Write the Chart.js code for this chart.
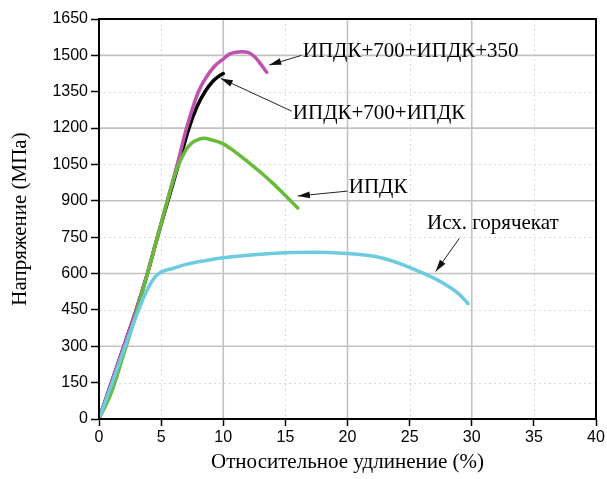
<!DOCTYPE html>
<html>
<head>
<meta charset="utf-8">
<script src="https://cdn.jsdelivr.net/npm/chart.js@4"></script>
<style>
html,body{margin:0;padding:0;background:#fff;}
#wrap{width:607px;height:479px;position:relative;}
</style>
</head>
<body>
<div id="wrap"><canvas id="c" width="607" height="479"></canvas></div>
<script>
// ---- data (strain %, stress MPa) ----
const hotRolledX = [0, 1, 2, 3, 3.5, 4, 4.5, 5, 6, 7, 8.5, 10, 12.5, 15, 17.5, 20, 21, 22, 23, 24, 25, 26, 27, 28, 29, 29.7];
const hotRolledY = [0, 140, 285, 425, 490, 545, 585, 606, 622, 638, 653, 665, 678, 686, 688, 683, 679, 672, 661, 645, 625, 604, 580, 551, 514, 476];

const ipdkX = [0, 1, 2, 3, 3.9, 4.7, 5.5, 6.3, 7, 7.5, 8, 8.5, 9, 10, 11, 12, 13, 14, 15, 16];
const ipdkY = [0, 110, 270, 435, 600, 750, 900, 1035, 1110, 1140, 1153, 1158, 1152, 1135, 1100, 1060, 1018, 972, 922, 870];

const ipdk700X = [0, 1, 2, 3, 3.9, 4.7, 5.55, 6.4, 7.24, 7.9, 8.53, 9.2, 9.7, 10];
const ipdk700Y = [0, 150, 300, 450, 600, 750, 900, 1050, 1200, 1290, 1350, 1395, 1416, 1425];

const ipdk700350X = [0, 1, 2, 3, 3.9, 4.7, 5.5, 6.3, 7.05, 8, 8.66, 9.3, 10, 10.5, 11, 11.5, 12, 12.5, 13, 13.5];
const ipdk700350Y = [0, 150, 300, 450, 600, 750, 900, 1050, 1200, 1350, 1412, 1455, 1485, 1505, 1513, 1515, 1512, 1495, 1465, 1430];

const xTicks = [0, 5, 10, 15, 20, 25, 30, 35, 40];
const yTicks = [0, 150, 300, 450, 600, 750, 900, 1050, 1200, 1350, 1500, 1650];
const xMajorGrid = [10, 20, 30];
const xMinorGrid = [5, 15, 25, 35];
const yMajorGrid = [300, 600, 900, 1200, 1500];
const yMinorGrid = [150, 450, 750, 1050, 1350];

const labels = ['Исх. горячекат', 'ИПДК', 'ИПДК+700+ИПДК', 'ИПДК+700+ИПДК+350'];
// annotation: text anchor (data coords) and arrow from/to (data coords)
const annText = [[26.4, 805], [20.1, 955], [15.6, 1260], [16.4, 1515]];
const annArrowFrom = [[29.0, 745], [20.0, 940], [15.5, 1270], [16.3, 1500]];
const annArrowTo = [[27.1, 608], [16.0, 920], [9.8, 1405], [13.7, 1460]];

const toPts = (xs, ys) => xs.map((x, i) => ({x: x, y: ys[i]}));

const gridPlugin = {
  id: 'gridLines',
  beforeDatasetsDraw(chart) {
    const {ctx, chartArea: a, scales: {x, y}} = chart;
    ctx.save();
    const line = (x1, y1, x2, y2) => { ctx.beginPath(); ctx.moveTo(x1, y1); ctx.lineTo(x2, y2); ctx.stroke(); };
    ctx.strokeStyle = '#dadada'; ctx.lineWidth = 1; ctx.setLineDash([2, 3]);
    xMinorGrid.forEach(v => { const p = Math.round(x.getPixelForValue(v)) + 0.5; line(p, a.top, p, a.bottom); });
    yMinorGrid.forEach(v => { const p = Math.round(y.getPixelForValue(v)) + 0.5; line(a.left, p, a.right, p); });
    ctx.setLineDash([]); ctx.strokeStyle = '#c2c2c2'; ctx.lineWidth = 1.6;
    xMajorGrid.forEach(v => { const p = x.getPixelForValue(v); line(p, a.top, p, a.bottom); });
    yMajorGrid.forEach(v => { const p = y.getPixelForValue(v); line(a.left, p, a.right, p); });
    ctx.restore();
  }
};

const annPlugin = {
  id: 'ann',
  afterDatasetsDraw(chart) {
    const {ctx, chartArea: a, scales: {x, y}} = chart;
    ctx.save();
    ctx.strokeStyle = '#000';
    ctx.lineWidth = 2;
    ctx.strokeRect(a.left, a.top, a.right - a.left, a.bottom - a.top);
    ctx.font = '21px "Liberation Serif", "Times New Roman", serif';
    ctx.textBaseline = 'middle';
    ctx.textAlign = 'left';
    labels.forEach((t, i) => {
      ctx.fillStyle = '#000';
      ctx.fillText(t, x.getPixelForValue(annText[i][0]), y.getPixelForValue(annText[i][1]));
      const x1 = x.getPixelForValue(annArrowFrom[i][0]);
      const y1 = y.getPixelForValue(annArrowFrom[i][1]);
      const x2 = x.getPixelForValue(annArrowTo[i][0]);
      const y2 = y.getPixelForValue(annArrowTo[i][1]);
      ctx.strokeStyle = '#222';
      ctx.lineWidth = 1;
      ctx.beginPath(); ctx.moveTo(x1, y1); ctx.lineTo(x2, y2); ctx.stroke();
      const ang = Math.atan2(y2 - y1, x2 - x1);
      const L = 12, W = 3.4;
      ctx.beginPath();
      ctx.moveTo(x2, y2);
      ctx.lineTo(x2 - L * Math.cos(ang) + W * Math.sin(ang), y2 - L * Math.sin(ang) - W * Math.cos(ang));
      ctx.lineTo(x2 - L * Math.cos(ang) - W * Math.sin(ang), y2 - L * Math.sin(ang) + W * Math.cos(ang));
      ctx.closePath();
      ctx.fillStyle = '#111';
      ctx.fill();
    });
    ctx.restore();
  }
};

const ds = (lbl, xs, ys, col) => ({
  label: lbl, data: toPts(xs, ys), borderColor: col, backgroundColor: col,
  borderWidth: 3.5, pointRadius: 0, cubicInterpolationMode: 'monotone',
  borderCapStyle: 'round', borderJoinStyle: 'round', fill: false
});

const tickFont = {family: '"Liberation Sans", Arial, sans-serif', size: 16};
const titleFont = {family: '"Liberation Serif", "Times New Roman", serif', size: 21};

new Chart(document.getElementById('c'), {
  type: 'line',
  data: {
    datasets: [
      ds(labels[0], hotRolledX, hotRolledY, '#6ccbdf'),
      ds(labels[1], ipdkX, ipdkY, '#66bb3a'),
      ds(labels[3], ipdk700350X, ipdk700350Y, '#bf52ae'),
      ds(labels[2], ipdk700X, ipdk700Y, '#000000')
    ]
  },
  options: {
    responsive: false,
    animation: false,
    devicePixelRatio: 1,
    layout: {padding: {left: 4, right: 11, top: 19, bottom: 0}},
    plugins: {legend: {display: false}, tooltip: {enabled: false}},
    scales: {
      x: {
        type: 'linear', min: 0, max: 40,
        afterBuildTicks: s => { s.ticks = xTicks.map(v => ({value: v})); },
        afterFit: s => { s.height = 60; },
        ticks: {font: tickFont, color: '#000', padding: 2, maxRotation: 0, callback: v => String(v)},
        grid: {drawOnChartArea: false, tickColor: '#000', tickLength: 7, tickWidth: 1.5},
        border: {display: true, color: '#000', width: 2},
        title: {display: true, text: 'Относительное удлинение (%)', color: '#000', font: titleFont, padding: {top: 6}}
      },
      y: {
        type: 'linear', min: 0, max: 1650,
        afterBuildTicks: s => { s.ticks = yTicks.map(v => ({value: v})); },
        afterFit: s => { s.width = 95; },
        ticks: {font: tickFont, color: '#000', padding: 3, callback: v => String(v)},
        grid: {drawOnChartArea: false, tickColor: '#000', tickLength: 8, tickWidth: 1.5},
        border: {display: true, color: '#000', width: 2},
        title: {display: true, text: 'Напряжение (МПа)', color: '#000', font: titleFont, padding: {bottom: 0}}
      }
    }
  },
  plugins: [gridPlugin, annPlugin]
});
</script>
</body>
</html>
